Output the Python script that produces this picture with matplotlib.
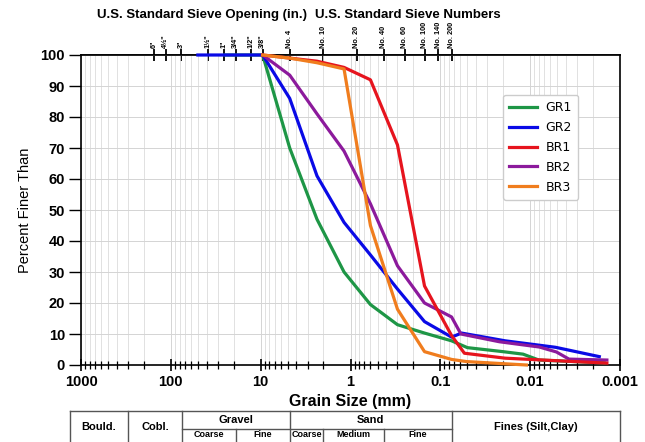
import matplotlib
matplotlib.use("Agg")
import matplotlib.pyplot as plt
import matplotlib.transforms as mtransforms
from matplotlib.lines import Line2D
from matplotlib.ticker import FixedLocator, FixedFormatter, LogLocator, NullFormatter, NullLocator

plt.rcParams['font.family'] = ['Liberation Sans', 'DejaVu Sans']

# ---------------- data ----------------
gr1_d = [25, 19, 12.5, 9.5, 4.75, 2.36, 1.18, 0.6, 0.3, 0.15, 0.075, 0.05, 0.02, 0.012, 0.008, 0.0015]
gr1_p = [100, 100, 100, 100, 70, 47, 30, 19.5, 13, 10.3, 7.8, 5.6, 4.3, 3.5, 1.6, 0.7]

gr2_d = [50, 37.5, 25, 19, 12.5, 9.5, 4.75, 2.36, 1.18, 0.6, 0.3, 0.15, 0.075, 0.058, 0.019, 0.0052, 0.0017]
gr2_p = [100, 100, 100, 100, 100, 100, 86, 61, 46, 35.5, 24.5, 14, 9, 10.3, 7.8, 5.7, 2.7]

br1_d = [9.5, 4.75, 2.36, 1.18, 0.6, 0.3, 0.15, 0.075, 0.054, 0.019, 0.0052, 0.0014]
br1_p = [100, 99, 98, 96, 92, 71, 25.5, 9.5, 3.8, 2.2, 1.4, 0.6]

br2_d = [9.5, 4.75, 2.36, 1.18, 0.6, 0.3, 0.15, 0.075, 0.059, 0.022, 0.0079, 0.0051, 0.0037, 0.0014]
br2_p = [100, 93.5, 81, 69, 52, 32, 20, 15.5, 10, 7.5, 5.8, 4.2, 1.9, 1.6]

br3_d = [9.5, 4.75, 2.36, 1.18, 0.6, 0.3, 0.15, 0.075, 0.051, 0.011]
br3_p = [100, 99, 97.5, 95.5, 45, 18, 4.3, 1.8, 1.1, 0]

series_names = ['GR1', 'GR2', 'BR1', 'BR2', 'BR3']
series_colors = ['#1e9646', '#0a0ae6', '#e6141e', '#8c1a9c', '#f07d1e']

x_ticks = [1000, 100, 10, 1, 0.1, 0.01, 0.001]
x_tick_labels = ['1000', '100', '10', '1', '0.1', '0.01', '0.001']
y_ticks = [0, 10, 20, 30, 40, 50, 60, 70, 80, 90, 100]

sieve_mm = [152.4, 114.3, 76.2, 38.1, 25.4, 19.05, 12.7, 9.525,
            4.75, 2.0, 0.85, 0.425, 0.25, 0.15, 0.106, 0.075]
sieve_labels = ['6"', '4½"', '3"', '1½"', '1"', '3/4"', '1/2"', '3/8"',
                'No. 4', 'No. 10', 'No. 20', 'No. 40', 'No. 60', 'No. 100', 'No. 140', 'No. 200']

table_bounds = [1330, 300, 75, 19, 4.75, 2, 0.425, 0.075, 0.001]

# ---------------- figure ----------------
fig = plt.figure(figsize=(6.45, 4.42), dpi=100)
ax = fig.add_axes([81/645, 1-365/442, 539/645, 310/442])
ax.set_xscale('log')

data = [(gr1_d, gr1_p), (gr2_d, gr2_p), (br1_d, br1_p), (br2_d, br2_p), (br3_d, br3_p)]
zorders = [3.0, 3.1, 3.3, 3.2, 3.4]
for (d, p), name, col, z in zip(data, series_names, series_colors, zorders):
    ax.plot(d, p, color=col, lw=2.3, label=name, zorder=z, clip_on=False)

ax.set_xlim(1000, 0.001)
ax.set_ylim(0, 100)

ax.xaxis.set_major_locator(FixedLocator(x_ticks))
ax.xaxis.set_major_formatter(FixedFormatter(x_tick_labels))
ax.xaxis.set_minor_locator(LogLocator(base=10, subs=range(2, 10), numticks=20))
ax.xaxis.set_minor_formatter(NullFormatter())
ax.yaxis.set_major_locator(FixedLocator(y_ticks))

ax.grid(True, which='major', axis='both', color='#d4d4d4', lw=0.7)
ax.grid(True, which='minor', axis='x', color='#dcdcdc', lw=0.6)
ax.set_axisbelow(True)

ax.tick_params(axis='x', which='major', direction='inout', length=9, width=1.2, labelsize=10.5, pad=3)
ax.tick_params(axis='x', which='minor', direction='inout', length=6, width=0.9)
ax.tick_params(axis='y', which='major', direction='out', length=8.5, width=1.0, labelsize=10.5, pad=3)
ax.tick_params(top=False, right=False)
for lbl in ax.get_xticklabels() + ax.get_yticklabels():
    lbl.set_fontweight('bold')

for s in ax.spines.values():
    s.set_linewidth(1.2)
    s.set_color('black')

ax.set_ylabel('Percent Finer Than', fontsize=10.5, labelpad=6)
ax.set_xlabel('Grain Size (mm)', fontsize=11.5, fontweight='bold', labelpad=3)

# top sieve axis
sec = ax.secondary_xaxis('top')
sec.xaxis.set_major_locator(FixedLocator(sieve_mm))
sec.xaxis.set_major_formatter(FixedFormatter(sieve_labels))
sec.xaxis.set_minor_locator(NullLocator())
sec.tick_params(axis='x', which='major', direction='inout', length=8.5, width=1.3,
                labelsize=5.3, labelrotation=90, pad=0.8)
for lbl in sec.get_xticklabels():
    lbl.set_fontweight('bold')
sec.spines['top'].set_linewidth(1.2)

fig.text(202/645, 1-15/442, 'U.S. Standard Sieve Opening (in.)', ha='center', va='center',
         fontsize=9.5, fontweight='bold')
fig.text(408/645, 1-15/442, 'U.S. Standard Sieve Numbers', ha='center', va='center',
         fontsize=9.5, fontweight='bold')

leg = ax.legend(loc='upper left', bbox_to_anchor=(0.783, 0.871), borderaxespad=0,
                prop={'family': 'DejaVu Sans', 'size': 9}, handlelength=2.2,
                framealpha=1.0, edgecolor='#cccccc', borderpad=0.5, labelspacing=0.55,
                handletextpad=0.7)

# ---------------- classification table ----------------
trans = mtransforms.blended_transform_factory(ax.transData, fig.transFigure)
y_top = 1 - 411/442
y_mid = 1 - 429/442
y_bot = 0.0
tcol = '#555555'
def hline(x0, x1, y):
    fig.add_artist(Line2D([x0, x1], [y, y], transform=trans, color=tcol, lw=1.0, clip_on=False))
def vline(x, y0, y1):
    fig.add_artist(Line2D([x, x], [y0, y1], transform=trans, color=tcol, lw=1.0, clip_on=False))

hline(table_bounds[0], table_bounds[-1], y_top)
hline(75, 0.075, y_mid)
for b in [1330, 300, 75, 4.75, 0.075, 0.001]:
    vline(b, y_bot, y_top)
for b in [19, 2, 0.425]:
    vline(b, y_bot, y_mid)

def gmean(a, b):
    return (a * b) ** 0.5

y_full = (y_top + y_bot) / 2
y_up = (y_top + y_mid) / 2
y_low = (y_mid + y_bot) / 2 + 0.002
kw = dict(transform=trans, ha='center', va='center', fontweight='bold')
fig.text(gmean(1330, 300), y_full, 'Bould.', fontsize=8, **kw)
fig.text(gmean(300, 75), y_full, 'Cobl.', fontsize=8, **kw)
fig.text(gmean(75, 4.75), y_up, 'Gravel', fontsize=8, **kw)
fig.text(gmean(4.75, 0.075), y_up, 'Sand', fontsize=8, **kw)
fig.text(gmean(75, 19), y_low, 'Coarse', fontsize=6.5, **kw)
fig.text(gmean(19, 4.75), y_low, 'Fine', fontsize=6.5, **kw)
fig.text(gmean(4.75, 2), y_low, 'Coarse', fontsize=6.5, **kw)
fig.text(gmean(2, 0.425), y_low, 'Medium', fontsize=6.5, **kw)
fig.text(gmean(0.425, 0.075), y_low, 'Fine', fontsize=6.5, **kw)
fig.text(gmean(0.075, 0.001), y_full, 'Fines (Silt,Clay)', fontsize=8, **kw)

fig.savefig('out.png', dpi=100)
